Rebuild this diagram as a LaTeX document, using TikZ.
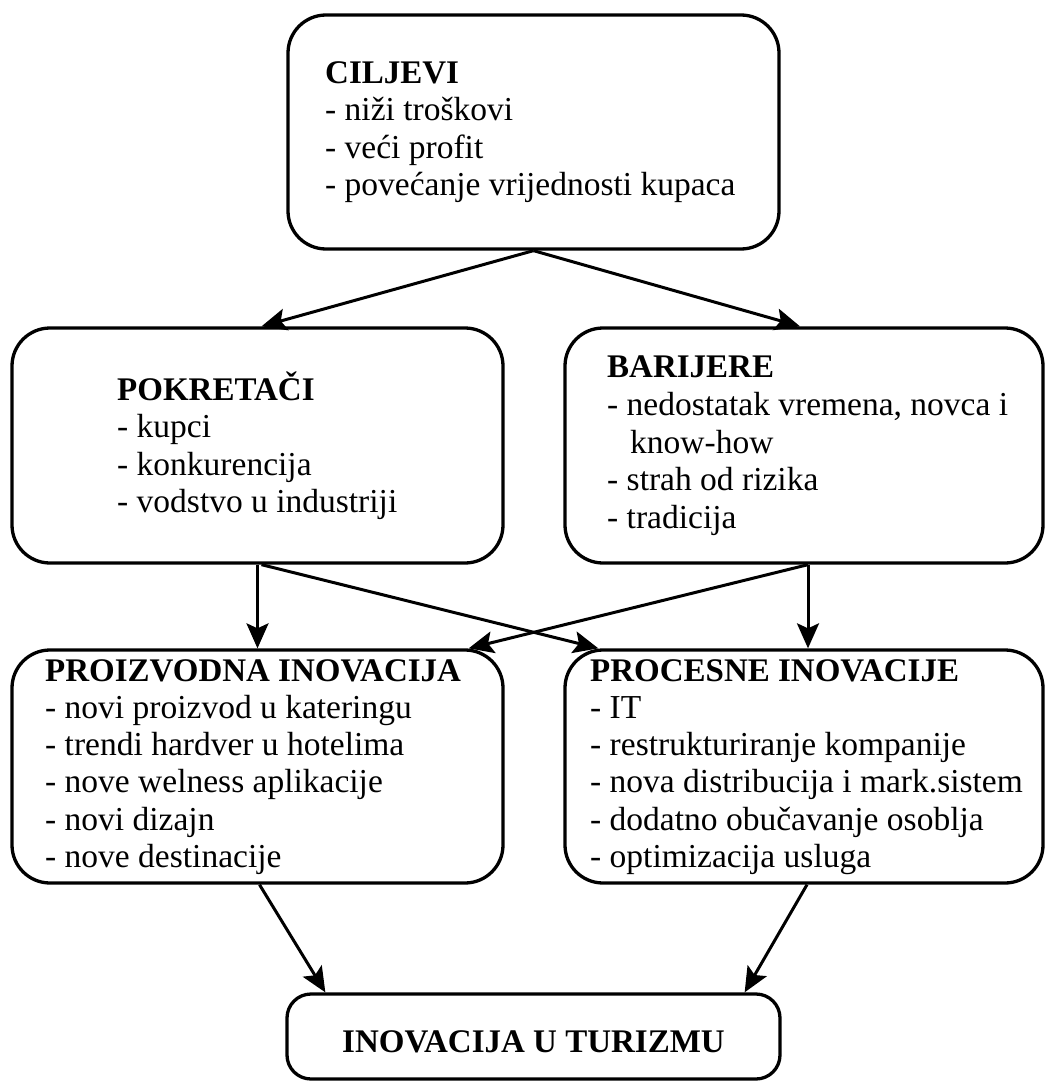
\documentclass[tikz,border=0pt]{standalone}
\usepackage{fontspec}
\setmainfont{Liberation Serif}
\usetikzlibrary{arrows.meta}
\begin{document}
\begin{tikzpicture}[x=1pt,y=-1pt,
  box/.style={draw, line width=3.3pt, rounded corners=38pt, inner sep=0pt},
  title/.style={anchor=base west, inner sep=0pt, font=\fontsize{33}{37.5}\selectfont\bfseries},
  item/.style={anchor=base west, inner sep=0pt, font=\fontsize{33.5}{37.5}\selectfont},
  arr/.style={line width=3pt, -{Stealth[length=25pt,width=22pt,inset=5pt]}}]
\fill[white] (0,0) rectangle (1045,1081);
\useasboundingbox (0,0) rectangle (1045,1081);

% boxes
\node[box, minimum width=491pt, minimum height=234pt] (ciljevi) at (533.5,132) {};
\node[box, minimum width=491pt, minimum height=235pt] (pokretaci) at (257.5,445.5) {};
\node[box, minimum width=478pt, minimum height=235pt] (barijere) at (804,445.5) {};
\node[box, minimum width=491pt, minimum height=233pt] (proizvodna) at (257.5,766.5) {};
\node[box, minimum width=478pt, minimum height=233pt] (procesne) at (804,766.5) {};
\node[box, rounded corners=24pt, minimum width=493pt, minimum height=85pt] (inovacija) at (533.5,1036.5) {};

% goals
\node[title] (c0) at (325,83) {CILJEVI};
\node[item] (c1) at (325,120) {- niži troškovi};
\node[item] (c2) at (325,158) {- veći profit};
\node[item] (c3) at (325,195) {- povećanje vrijednosti kupaca};

% drivers
\node[title] (p0) at (117,400) {POKRETAČI};
\node[item] (p1) at (117,437) {- kupci};
\node[item] (p2) at (117,475) {- konkurencija};
\node[item] (p3) at (117,512) {- vodstvo u industriji};

% barriers
\node[title] (b0) at (607,377) {BARIJERE};
\node[item] (b1) at (607,415) {- nedostatak vremena, novca i};
\node[item] (b2) at (630,453) {know-how};
\node[item] (b3) at (607,490) {- strah od rizika};
\node[item] (b4) at (607,528) {- tradicija};

% product innovation
\node[title] (r0) at (45,681) {PROIZVODNA INOVACIJA};
\node[item] (r1) at (45,718) {- novi proizvod u kateringu};
\node[item] (r2) at (45,755) {- trendi hardver u hotelima};
\node[item] (r3) at (45,792) {- nove welness aplikacije};
\node[item] (r4) at (45,830) {- novi dizajn};
\node[item] (r5) at (45,867) {- nove destinacije};

% process innovation
\node[title] (s0) at (590,681) {PROCESNE INOVACIJE};
\node[item] (s1) at (590,718) {- IT};
\node[item] (s2) at (590,755) {- restrukturiranje kompanije};
\node[item] (s3) at (590,792) {- nova distribucija i mark.sistem};
\node[item] (s4) at (590,830) {- dodatno obučavanje osoblja};
\node[item] (s5) at (590,867) {- optimizacija usluga};

% result
\node[title, anchor=base] (t0) at (533.5,1052) {INOVACIJA U TURIZMU};

% connectors
\draw[arr] (ciljevi.south) -- ([xshift=4pt]pokretaci.north);
\draw[arr] (ciljevi.south) -- ([xshift=-4pt]barijere.north);
\draw[arr] (pokretaci.south) -- (proizvodna.north);
\draw[arr] ([xshift=4pt]barijere.south) -- ([xshift=4pt]procesne.north);
\draw[arr] ([xshift=4pt]pokretaci.south) -- ([xshift=35pt]procesne.north west);
\draw[arr] ([xshift=4pt]barijere.south) -- ([xshift=-36pt]proizvodna.north east);
\draw[arr] ([xshift=2pt]proizvodna.south) -- ([xshift=40pt]inovacija.north west);
\draw[arr] ([xshift=3pt]procesne.south) -- ([xshift=-37pt]inovacija.north east);
\end{tikzpicture}
\end{document}
